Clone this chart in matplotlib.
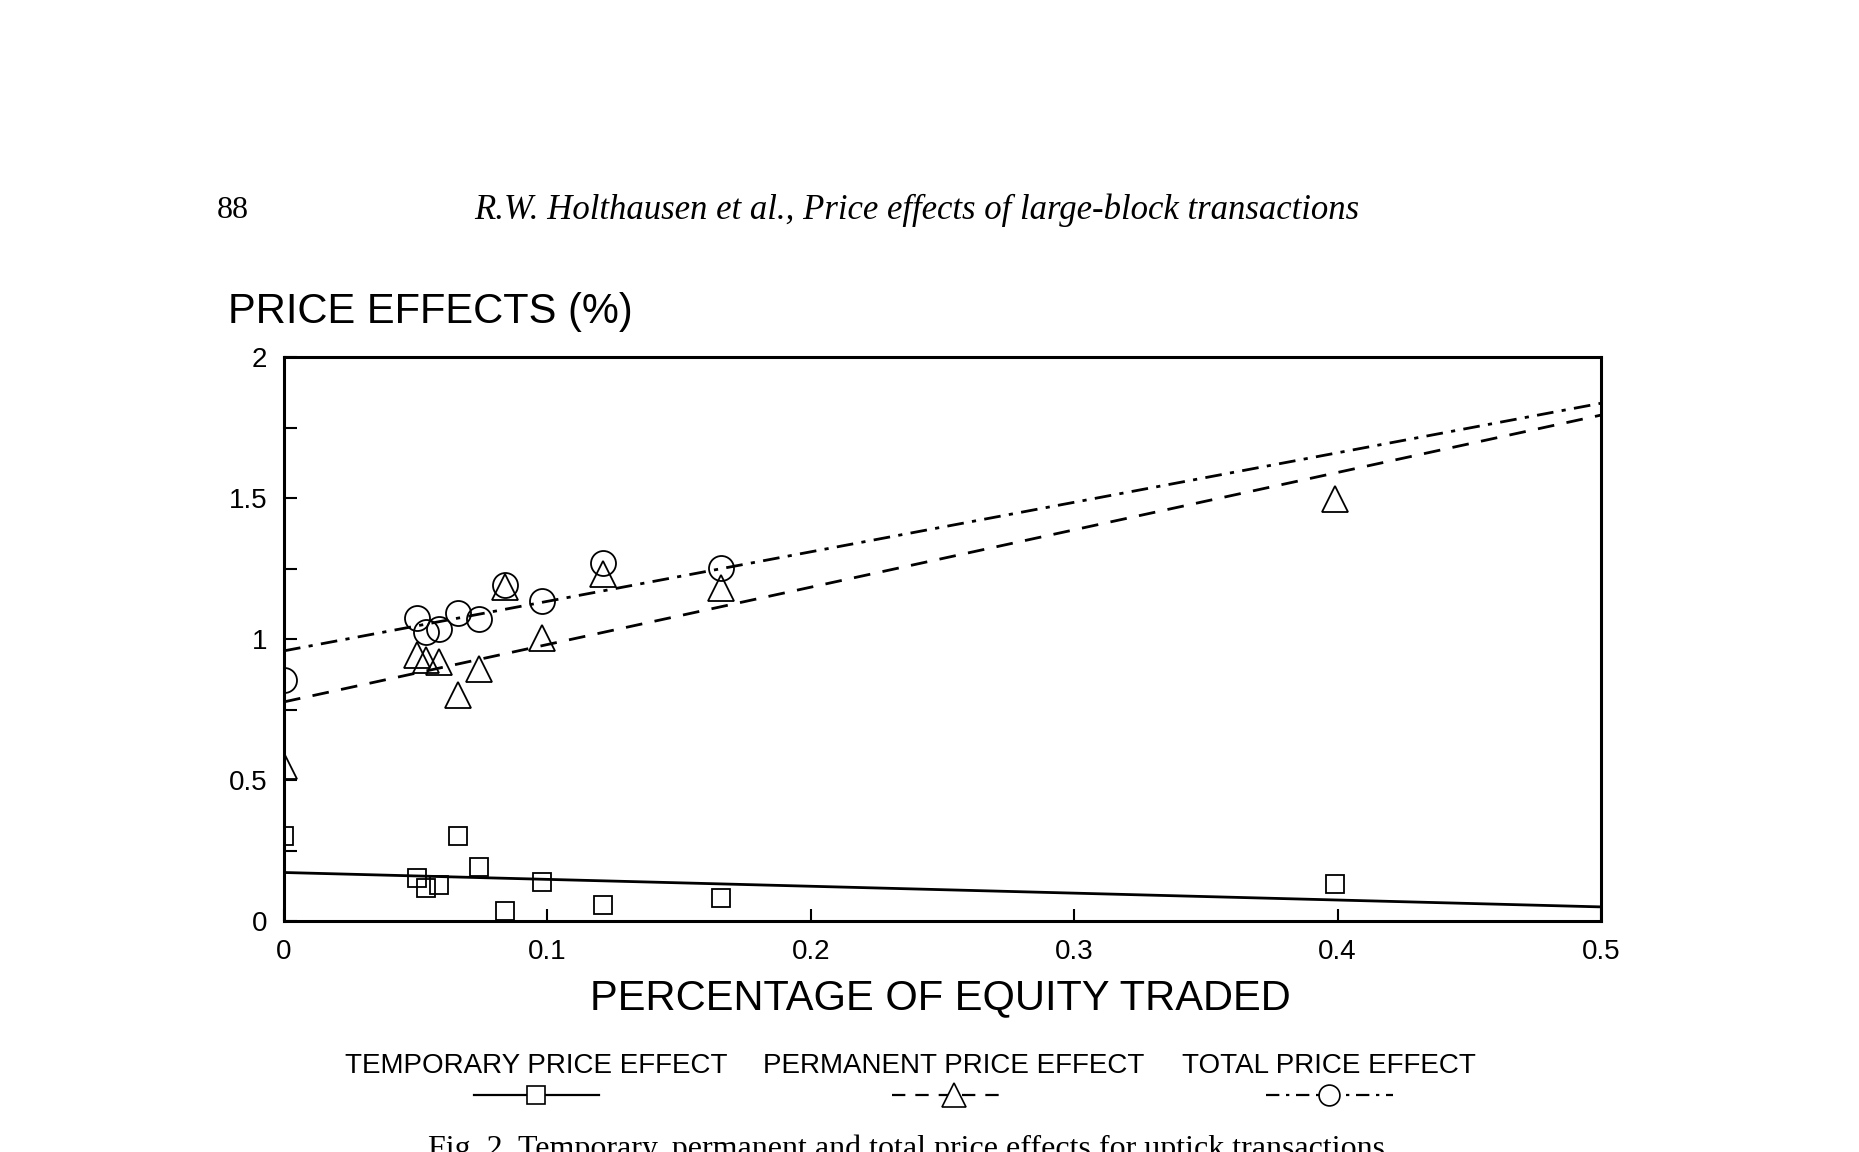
"""
Fig. 2 - Holthausen et al.: temporary, permanent and total price effects
for uptick transactions, redrawn with matplotlib.
"""

import matplotlib
matplotlib.use("Agg")
import matplotlib.pyplot as plt
from matplotlib.lines import Line2D

# percentage of equity traded (x) for each block
equity_traded = [0.0, 0.0505, 0.054, 0.059, 0.066, 0.074, 0.084, 0.098, 0.121, 0.166, 0.399]

# price effects (%)
temporary = [0.30, 0.151, 0.118, 0.126, 0.30, 0.19, 0.034, 0.139, 0.055, 0.08, 0.13]
permanent = [0.55, 0.945, 0.924, 0.92, 0.80, 0.895, 1.185, 1.004, 1.231, 1.18, 1.496]
# the total point at 0.4 is not visible on the scan, so it is left out
total_x = [0.0, 0.0505, 0.054, 0.059, 0.066, 0.074, 0.084, 0.098, 0.121, 0.166]
total = [0.853, 1.076, 1.025, 1.034, 1.092, 1.071, 1.193, 1.134, 1.269, 1.252]

# fitted regression lines (end points at x = 0 and x = 0.5)
fit_x = [0.0, 0.5]
temporary_fit = [0.172, 0.05]
permanent_fit = [0.777, 1.794]
total_fit = [0.958, 1.836]

x_ticks = [0, 0.1, 0.2, 0.3, 0.4, 0.5]
x_tick_labels = ["0", "0.1", "0.2", "0.3", "0.4", "0.5"]
y_ticks = [0, 0.5, 1, 1.5, 2]
y_tick_labels = ["0", "0.5", "1", "1.5", "2"]

legend_labels = ["TEMPORARY PRICE EFFECT", "PERMANENT PRICE EFFECT", "TOTAL PRICE EFFECT"]

SANS = ["Liberation Sans", "DejaVu Sans"]
SERIF = ["Liberation Serif", "DejaVu Serif"]

DASHED = (0, (6, 4.5))
DASHDOT = (0, (6, 3, 1.5, 3))

W, H = 1859, 1152
fig = plt.figure(figsize=(W / 100, H / 100), dpi=100)
fig.patch.set_facecolor("white")

# axes box in pixels: left 284, right 1601, top 357, bottom 921
ax = fig.add_axes([284 / W, 1 - 921 / H, (1601 - 284) / W, (921 - 357) / H])

ax.plot(fit_x, temporary_fit, color="black", lw=2.0, linestyle="-")
ax.plot(fit_x, permanent_fit, color="black", lw=2.0, linestyle=DASHED)
ax.plot(fit_x, total_fit, color="black", lw=2.0, linestyle=DASHDOT)

ax.plot(equity_traded, temporary, linestyle="none", marker="s", markersize=13,
        markerfacecolor="none", markeredgecolor="black", markeredgewidth=1.3)
ax.plot(equity_traded, permanent, linestyle="none", marker="^", markersize=19,
        markerfacecolor="none", markeredgecolor="black", markeredgewidth=1.3)
ax.plot(total_x, total, linestyle="none", marker="o", markersize=18,
        markerfacecolor="none", markeredgecolor="black", markeredgewidth=1.3)

ax.set_xlim(0, 0.5)
ax.set_ylim(0, 2)
ax.set_xticks(x_ticks)
ax.set_xticklabels(x_tick_labels, family=SANS, fontsize=20)
ax.set_yticks(y_ticks)
ax.set_yticklabels(y_tick_labels, family=SANS, fontsize=20)
ax.set_yticks([0.25, 0.75, 1.25, 1.75], minor=True)
ax.tick_params(axis="both", which="major", direction="in", length=9, width=1.5)
ax.tick_params(axis="y", which="major", pad=12)
ax.tick_params(axis="x", which="major", pad=13)
ax.tick_params(axis="y", which="minor", direction="in", length=9, width=1.5)

for side in ["left", "right", "top", "bottom"]:
    ax.spines[side].set_linewidth(2.2)

ax.set_xlabel("PERCENTAGE OF EQUITY TRADED", family=SANS, fontsize=30, va="center")
ax.xaxis.set_label_coords((940 - 284) / (1601 - 284), -(998 - 921) / (921 - 357))

# y axis title sits above the box, on the left
fig.text(228 / W, 1 - 312 / H, "PRICE EFFECTS (%)", family=SANS, fontsize=30,
         ha="left", va="center")

# page header of the scanned article
fig.text(217 / W, 1 - 210 / H, "88", family=SERIF, fontsize=23, ha="left", va="center")
fig.text(917 / W, 1 - 210 / H,
         "R.W. Holthausen et al., Price effects of large-block transactions",
         family=SERIF, style="italic", fontsize=25, ha="center", va="center")

# legend: labels above, line samples below
label_x = [536, 954, 1329]
sample_spans = [(474, 599), (892, 1008), (1266, 1393)]
sample_styles = ["-", DASHED, DASHDOT]
sample_markers = ["s", "^", "o"]
sample_sizes = [13, 17, 15]
for lab, cx, (x0, x1), ls, mk, ms in zip(legend_labels, label_x, sample_spans,
                                          sample_styles, sample_markers, sample_sizes):
    fig.text(cx / W, 1 - 1066 / H, lab, family=SANS, fontsize=20, ha="center", va="center")
    fig.add_artist(Line2D([x0 / W, x1 / W], [1 - 1095 / H, 1 - 1095 / H],
                          transform=fig.transFigure, color="black", lw=1.6, linestyle=ls))
    fig.add_artist(Line2D([cx / W], [1 - 1095 / H], transform=fig.transFigure,
                          linestyle="none", marker=mk, markersize=ms, markerfacecolor="white",
                          markeredgecolor="black", markeredgewidth=1.2))

# caption, cut at the bottom edge of the scan as in the original page
fig.text(910 / W, (1152 - 1157) / H,
         "Fig. 2. Temporary, permanent and total price effects for uptick transactions.",
         family=SERIF, fontsize=23, ha="center", va="baseline")

fig.savefig("out.png", dpi=100, facecolor="white")
